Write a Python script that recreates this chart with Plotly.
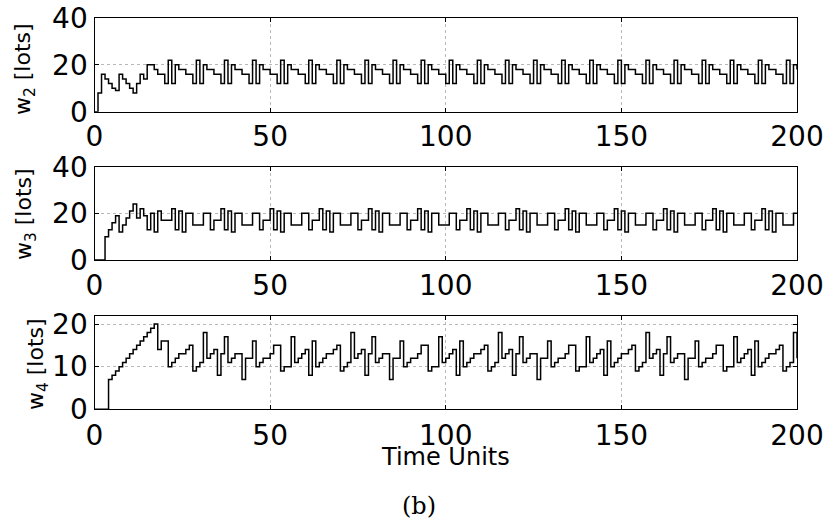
import plotly.graph_objects as go

# ---------------- data ----------------
time_units = list(range(201))

w2 = [0, 8, 16, 14, 12, 10, 9, 16, 14, 12, 10, 8, 12, 16, 14, 20, 20, 18, 16, 16, 12,
      22, 12, 20, 18, 18, 16, 16, 12,
      22, 12, 20, 18, 18, 16, 16, 12,
      22, 12, 20, 18, 18, 16, 16, 12,
      22, 12, 20, 18, 18, 16, 16, 12,
      22, 12, 20, 18, 18, 16, 16, 12,
      22, 12, 20, 18, 18, 16, 16, 12,
      22, 12, 20, 18, 18, 16, 16, 12,
      22, 12, 20, 18, 18, 16, 16, 12,
      22, 12, 20, 18, 18, 16, 16, 12,
      22, 12, 20, 18, 18, 16, 16, 12,
      22, 12, 20, 18, 18, 16, 16, 12,
      22, 12, 20, 18, 18, 16, 16, 12,
      22, 12, 20, 18, 18, 16, 16, 12,
      22, 12, 20, 18, 18, 16, 16, 12,
      22, 12, 20, 18, 18, 16, 16, 12,
      22, 12, 20, 18, 18, 16, 16, 12,
      22, 12, 20, 18, 18, 16, 16, 12,
      22, 12, 20, 18, 18, 16, 16, 12,
      22, 12, 20, 18, 18, 16, 16, 12,
      22, 12, 20, 18, 18, 16, 16, 12,
      22, 12, 20, 18, 18, 16, 16, 12,
      22, 12, 20, 18, 18, 16, 16, 12,
      22, 12, 20, 18]

w3 = [0, 0, 0, 10, 13, 16, 19, 12, 15, 18, 21, 24, 18, 22, 19, 13, 20, 12, 21, 17, 17, 17,
      22, 13, 21, 12, 20, 20, 15, 15, 15, 20, 20, 13, 17, 17,
      22, 13, 21, 12, 20, 20, 15, 15, 15, 20, 20, 13, 17, 17,
      22, 13, 21, 12, 20, 20, 15, 15, 15, 20, 20, 13, 17, 17,
      22, 13, 21, 12, 20, 20, 15, 15, 15, 20, 20, 13, 17, 17,
      22, 13, 21, 12, 20, 20, 15, 15, 15, 20, 20, 13, 17, 17,
      22, 13, 21, 12, 20, 20, 15, 15, 15, 20, 20, 13, 17, 17,
      22, 13, 21, 12, 20, 20, 15, 15, 15, 20, 20, 13, 17, 17,
      22, 13, 21, 12, 20, 20, 15, 15, 15, 20, 20, 13, 17, 17,
      22, 13, 21, 12, 20, 20, 15, 15, 15, 20, 20, 13, 17, 17,
      22, 13, 21, 12, 20, 20, 15, 15, 15, 20, 20, 13, 17, 17,
      22, 13, 21, 12, 20, 20, 15, 15, 15, 20, 20, 13, 17, 17,
      22, 13, 21, 12, 20, 20, 15, 15, 15, 20, 20, 13, 17, 17,
      22, 13, 21, 12, 20, 20, 15, 15, 15, 20, 20]

w4 = [0, 0, 0, 0, 7, 8, 9, 10, 11, 12, 13, 14, 15, 16, 17, 18, 19, 20, 14, 16, 16,
      10, 11, 12, 13, 13, 14, 15, 9, 10, 11, 18, 12, 13, 14, 8, 13, 17, 11, 12, 13, 13,
      7, 12, 12, 16, 10, 11, 12, 12, 13, 15, 15, 9, 10, 10, 17, 11, 12, 13, 14, 8, 16,
      10, 11, 12, 13, 13, 14, 15, 9, 10, 11, 18, 12, 13, 14, 8, 13, 17, 11, 12, 13, 13,
      7, 12, 12, 16, 10, 11, 12, 12, 13, 15, 15, 9, 10, 10, 17, 11, 12, 13, 14, 8, 16,
      10, 11, 12, 13, 13, 14, 15, 9, 10, 11, 18, 12, 13, 14, 8, 13, 17, 11, 12, 13, 13,
      7, 12, 12, 16, 10, 11, 12, 12, 13, 15, 15, 9, 10, 10, 17, 11, 12, 13, 14, 8, 16,
      10, 11, 12, 13, 13, 14, 15, 9, 10, 11, 18, 12, 13, 14, 8, 13, 17, 11, 12, 13, 13,
      7, 12, 12, 16, 10, 11, 12, 12, 13, 15, 15, 9, 10, 10, 17, 11, 12, 13, 14, 8, 16,
      10, 11, 12, 13, 13, 14, 15, 9, 10, 11, 18, 12]

x_ticks = [0, 50, 100, 150, 200]
y_ticks_upper = [0, 20, 40]
y_ticks_lower = [0, 10, 20]
y_titles = ["w<sub>2</sub> [lots]", "w<sub>3</sub> [lots]", "w<sub>4</sub> [lots]"]
x_title = "Time Units"
caption = "(b)"

# ---------------- layout ----------------
W, H = 828, 520


def px(x):
    return x / W


def py(y):
    return 1 - y / H


x_dom = [px(94.5), px(797)]
y_doms = [[py(111.7), py(18)], [py(260), py(166.7)], [py(409.3), py(315.5)]]
y_ranges = [[0, 40], [0, 40], [0, 22]]
y_tickvals = [y_ticks_upper, y_ticks_upper, y_ticks_lower]
x_standoff = [0, 0, 1]

fig = go.Figure()
for i, w in enumerate([w2, w3, w4]):
    sfx = "" if i == 0 else str(i + 1)
    fig.add_trace(go.Scatter(
        x=time_units, y=w, mode="lines",
        line=dict(shape="hv", color="black", width=1.5),
        xaxis="x" + sfx, yaxis="y" + sfx, hoverinfo="skip"))

common = dict(showline=True, linecolor="black", linewidth=1.3, mirror="ticks",
              ticks="inside", ticklen=4, tickcolor="black", tickwidth=1,
              showgrid=True, gridcolor="#b8b8b8", griddash="dot", gridwidth=1,
              zeroline=False, automargin=False,
              tickfont=dict(family="DejaVu Sans", size=28, color="black"))

layout = dict(width=W, height=H, margin=dict(l=0, r=0, t=0, b=0, pad=0),
              paper_bgcolor="white", plot_bgcolor="white", showlegend=False)

for i in range(3):
    sfx = "" if i == 0 else str(i + 1)
    layout["xaxis" + sfx] = dict(common, domain=x_dom, range=[0, 200],
                                 tickvals=x_ticks, anchor="y" + sfx,
                                 ticklabelstandoff=x_standoff[i])
    layout["yaxis" + sfx] = dict(common, domain=y_doms[i], range=y_ranges[i],
                                 tickvals=y_tickvals[i], anchor="x" + sfx)

fig.update_layout(**layout)

title_pos = [(25, 69), (25, 214), (37, 364)]
for (tx, ty), t in zip(title_pos, y_titles):
    fig.add_annotation(text=t, x=px(tx), y=py(ty), xref="paper", yref="paper",
                       xanchor="center", yanchor="middle", textangle=-90,
                       showarrow=False,
                       font=dict(family="DejaVu Sans", size=22, color="black"))

fig.add_annotation(text=x_title, x=px(446), y=py(457), xref="paper", yref="paper",
                   xanchor="center", yanchor="middle", showarrow=False,
                   font=dict(family="DejaVu Sans", size=24, color="black"))
fig.add_annotation(text=caption, x=px(419), y=py(506), xref="paper", yref="paper",
                   xanchor="center", yanchor="middle", showarrow=False,
                   font=dict(family="DejaVu Serif", size=24, color="black"))

fig.write_html("out.html")
